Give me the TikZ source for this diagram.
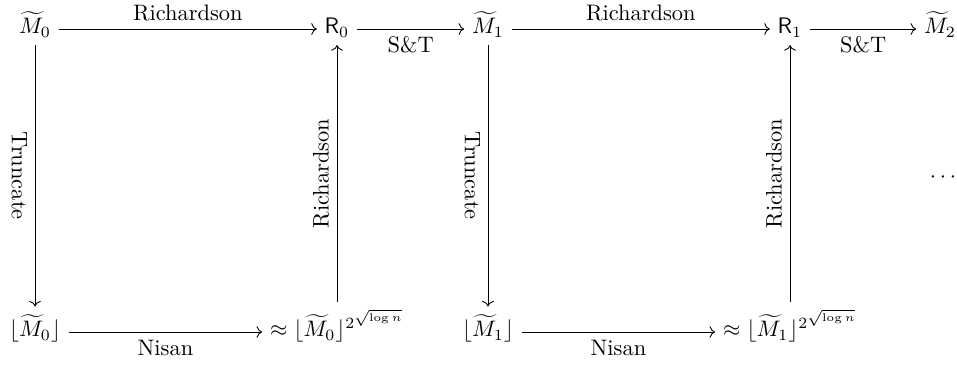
\documentclass[tikz,border=0pt]{standalone}
\usetikzlibrary{arrows.meta}
\begin{document}
\begin{tikzpicture}[x=0.446pt,y=-0.446pt,
  obj/.style={inner sep=3.33pt},
  arr/.style={-{Computer Modern Rightarrow}, line width=0.4pt},
  lbl/.style={inner sep=3.33pt}]
\useasboundingbox (0,0) rectangle (957,367);
% top row
\node[obj, anchor=mid] (m0) at (35,29) {$\widetilde{M}_0$};
\node[obj, anchor=mid] (r0) at (337,29) {$\mathsf{R}_0$};
\node[obj, anchor=mid] (m1) at (488,29) {$\widetilde{M}_1$};
\node[obj, anchor=mid] (r1) at (790,29) {$\mathsf{R}_1$};
\node[obj, anchor=mid] (m2) at (940,29) {$\widetilde{M}_2$};
% bottom row
\node[obj, anchor=mid] (f0) at (35,332) {$\lfloor\widetilde{M}_0\rfloor$};
\node[obj, anchor=mid] (p0) at (337,332) {$\approx\lfloor\widetilde{M}_0\rfloor^{2^{\sqrt{\log n}}}$};
\node[obj, anchor=mid] (f1) at (488,332) {$\lfloor\widetilde{M}_1\rfloor$};
\node[obj, anchor=mid] (p1) at (790,332) {$\approx\lfloor\widetilde{M}_1\rfloor^{2^{\sqrt{\log n}}}$};
\node (dots) at (943,178) {$\cdots$};
% horizontal arrows
\draw[arr] (m0.mid east) -- node[lbl, above] {Richardson} (r0.mid west);
\draw[arr] (r0.mid east) -- node[lbl, below] {S\&T} (m1.mid west);
\draw[arr] (m1.mid east) -- node[lbl, above] {Richardson} (r1.mid west);
\draw[arr] (r1.mid east) -- node[lbl, below] {S\&T} (m2.mid west);
\draw[arr] (f0.mid east) -- node[lbl, below] {Nisan} (f0.mid east -| p0.west);
\draw[arr] (f1.mid east) -- node[lbl, below] {Nisan} (f1.mid east -| p1.west);
% vertical arrows
\draw[arr] (m0.south) -- node[lbl, sloped, below] {Truncate} (f0.north);
\draw[arr] (m1.south) -- node[lbl, sloped, below] {Truncate} (f1.north);
\draw[arr] (p0.north -| r0.south) -- node[lbl, sloped, above] {Richardson} (r0.south);
\draw[arr] (p1.north -| r1.south) -- node[lbl, sloped, above] {Richardson} (r1.south);
\end{tikzpicture}
\end{document}
